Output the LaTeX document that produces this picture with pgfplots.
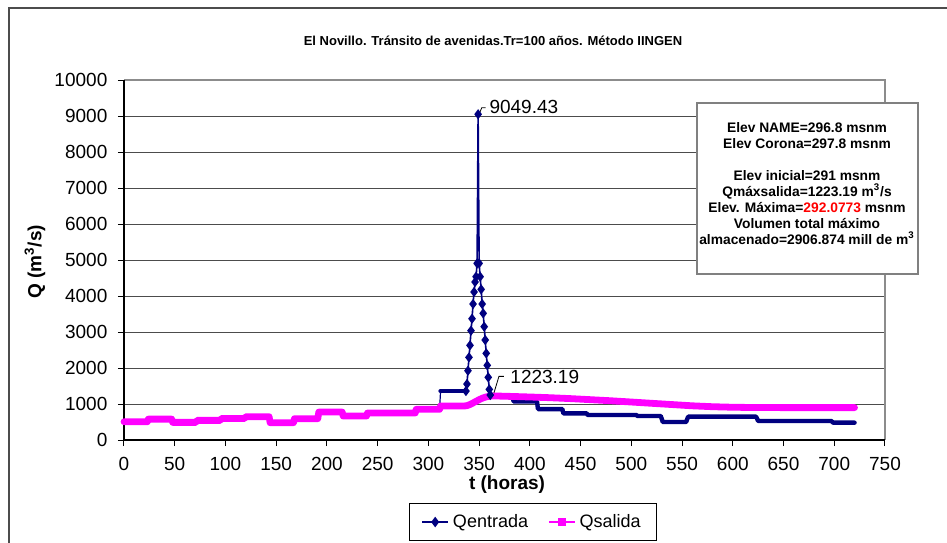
\documentclass[border=0pt]{standalone}
\usepackage{fontspec}
\setmainfont{Liberation Sans}
\usepackage{pgfplots}
\pgfplotsset{compat=1.18}
\definecolor{qin}{RGB}{0,0,128}
\definecolor{qout}{RGB}{255,0,255}
\begin{document}
\begin{tikzpicture}
\useasboundingbox (0,0) rectangle (473.5pt,-271pt);
\draw[black!70, line width=0.6pt] (4.5pt,-272pt) -- (4.5pt,-4pt) -- (474pt,-4pt);
\begin{axis}[
 at={(62pt,-220pt)}, anchor=south west, scale only axis,
 width=380.5pt, height=180pt,
 xmin=0, xmax=750, ymin=0, ymax=10000,
 xtick={0,50,...,750}, ytick={0,1000,...,10000},
 scaled ticks=false,
 axis line style={draw=none},
 ymajorgrids, major grid style={black!70, line width=0.5pt},
 tick align=outside, major tick length=3pt, tick style={black, line width=0.5pt},
 xtick pos=bottom, ytick pos=left,
 ticklabel style={font=\fontsize{9.5}{11}\selectfont},
 /pgf/number format/assume math mode=true,
 /pgf/number format/1000 sep={},
 /pgf/number format/fixed,
 xticklabel style={yshift=-2.3pt},
 yticklabel style={xshift=-1.8pt},
 clip=false,
 legend style={at={(0.5375,-0.2278)}, anchor=center, legend columns=2, draw=black, line width=0.5pt,
   font=\fontsize{9}{11}\selectfont, inner xsep=6pt, inner ysep=3pt,
   /tikz/every even column/.append style={column sep=8pt}},
 legend image code/.code={\draw[mark repeat=2,mark phase=2,#1] plot coordinates {(0pt,0pt) (6.5pt,0pt) (13pt,0pt)};},
]
% frame
\draw[black!45, line width=0.6pt] (rel axis cs:0,1) -- (rel axis cs:1,1) -- (rel axis cs:1,0);
\draw[black, line width=0.6pt] (rel axis cs:0,1) -- (rel axis cs:0,0) -- (rel axis cs:1,0);

% Qentrada plateaus (thick)
\addplot[qin, line width=2.2pt, line join=round, line cap=round, forget plot] coordinates {
(0,508) (23,508) (24,580) (47,580) (48,490) (71,490) (72,545) (95,545) (96,600) (119,600)
(120,648) (143,648) (144,481) (167,481) (168,593) (191,593) (192,777) (215,777) (216,667) (239,667)
(240,750) (287,750) (288,852) (311,852)};
\addplot[qin, line width=2.2pt, line join=round, line cap=round, forget plot] coordinates {
(312,1360) (337,1360)};
\addplot[qin, line width=2.2pt, line join=round, line cap=round, forget plot] coordinates {
(361,1250) (383,1200) (384,1070) (407,1070) (408,860) (432,860) (433,740) (456,740)
(457,694) (505,694) (506,667) (529,667) (531,500) (554,500) (556,648) (623,648)
(625,528) (697,528) (699,481) (720,481)};
% Qentrada rising / peak (thin with markers)
\addplot[qin, line width=0.6pt, forget plot] coordinates {(311,852) (312,1360)};
\addplot[qin, line width=0.8pt, mark=diamond*, mark size=1.9pt, forget plot] coordinates {
(337,1360) (338,1555) (339,1925) (340,2296) (341,2630) (342,3037) (343,3370) (344,3778)
(345,4111) (346,4389) (347,4537) (348,4907) (349,9049.43) (350,4907) (351,4537) (352,4185)
(353,3778) (354,3519) (355,3148) (356,2778) (357,2407) (358,2074) (359,1741) (360,1407) (361,1250)};

% Qsalida (thick magenta)
\addplot[qout, line width=3.4pt, line join=round, line cap=round, forget plot] coordinates {
(0,508) (23,508) (24,580) (47,580) (48,490) (71,490) (72,545) (95,545) (96,600) (119,600)
(120,648) (143,648) (144,481) (167,481) (168,593) (191,593) (192,777) (215,777) (216,667) (239,667)
(240,750) (287,750) (288,852) (311,852) (312,944) (335,944) (338,955) (341,985) (344,1030)
(347,1075) (350,1120) (353,1160) (356,1190) (359,1210) (362,1220) (364,1223.19) (370,1220)
(380,1212) (400,1195) (420,1175) (440,1150) (460,1120) (480,1090) (500,1055) (520,1020)
(540,985) (560,950) (580,925) (600,910) (620,903) (650,900) (690,900) (720,900)};

\addlegendimage{qin, line width=0.8pt, mark=diamond*, mark size=2pt}
\addlegendentry{Qentrada}
\addlegendimage{qout, line width=0.8pt, mark=square*, mark size=1.6pt}
\addlegendentry{Qsalida}

% data labels
\node[anchor=west, font=\fontsize{9.5}{11}\selectfont, inner sep=0pt, xshift=5.5pt, yshift=3.75pt] at (axis cs:349,9049.43) {9049.43};
\draw[line width=0.4pt] (axis cs:349,9049.43) ++(0.8pt,0.8pt) -- ++(1pt,2.4pt) -- ++(2pt,0pt);
\node[anchor=west, font=\fontsize{9.5}{11}\selectfont, inner sep=0pt, xshift=8.35pt, yshift=9.65pt] at (axis cs:364,1223.19) {1223.19};
\draw[line width=0.4pt] (axis cs:364,1223.19) ++(0.3pt,1.5pt) -- ++(2.5pt,8.3pt) -- ++(2.5pt,0pt);
\end{axis}

% title and axis labels
\node[font=\bfseries\fontsize{6.5}{8}\selectfont] at (246.5pt,-20.5pt) {El Novillo. Tránsito de avenidas.Tr=100 años. Método IINGEN};
\node[font=\bfseries\fontsize{9.5}{11}\selectfont, rotate=90] at (17.5pt,-131pt) {Q (m\textsuperscript{3}/s)};
\node[font=\bfseries\fontsize{9.5}{11}\selectfont] at (253.5pt,-242.5pt) {t (horas)};

% annotation box
\draw[black!50, line width=0.6pt, fill=white] (348.5pt,-51.5pt) rectangle (459pt,-137pt);
\node[align=center, font=\bfseries\fontsize{6.9}{8}\selectfont, inner sep=0pt] at (403.5pt,-91.75pt) {Elev NAME=296.8 msnm\\Elev Corona=297.8 msnm\\[8pt]Elev inicial=291 msnm\\Qmáxsalida=1223.19 m\textsuperscript{3}/s\\Elev. Máxima=\textcolor{red}{292.0773} msnm\\Volumen total máximo\\almacenado=2906.874 mill de m\textsuperscript{3}};
\end{tikzpicture}
\end{document}
